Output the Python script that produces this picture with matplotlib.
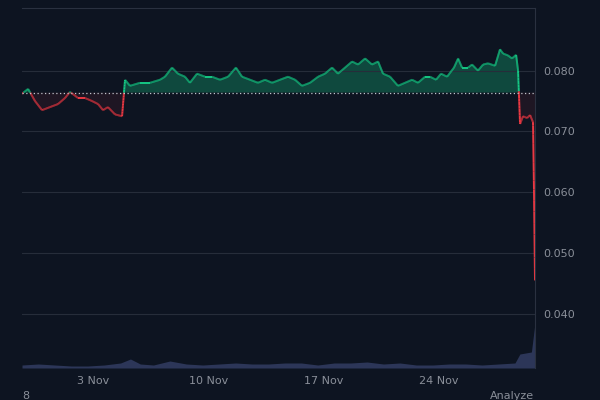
import numpy as np
import matplotlib
matplotlib.use("Agg")
import matplotlib.pyplot as plt
from matplotlib.collections import LineCollection
import datetime as dt

start = dt.datetime(2024, 10, 29, 16)
# time offsets (days from start) and price
days = [0,0.37,0.79,1.22,1.70,2.19,2.62,2.92,3.41,3.83,4.26,4.63,4.93,5.23,5.66,6.09,6.27,6.57,7.18,7.79,8.40,8.70,9.13,9.49,9.92,10.22,10.65,11.14,11.56,12.05,12.54,13.02,13.39,13.88,14.36,14.79,15.22,15.70,16.19,16.62,17.04,17.53,18.02,18.44,18.87,19.23,19.66,20.09,20.45,20.88,21.30,21.67,21.97,22.40,22.88,23.31,23.74,24.10,24.53,24.83,25.20,25.50,25.87,26.29,26.54,26.78,27.15,27.39,27.75,28.06,28.36,28.79,29.09,29.28,29.58,29.82,30.07,30.19,30.31,30.49,30.74,30.92,31.10,31.16,31.22]
price = [0.0762,0.0770,0.0750,0.0735,0.0740,0.0745,0.0755,0.0765,0.0755,0.0755,0.0750,0.0745,0.0735,0.0740,0.0728,0.0725,0.0785,0.0775,0.0780,0.0780,0.0785,0.0790,0.0805,0.0795,0.0790,0.0780,0.0795,0.0790,0.0790,0.0785,0.0790,0.0805,0.0790,0.0785,0.0780,0.0785,0.0780,0.0785,0.0790,0.0785,0.0775,0.0780,0.0790,0.0795,0.0805,0.0795,0.0805,0.0815,0.0810,0.0820,0.0810,0.0815,0.0795,0.0790,0.0775,0.0780,0.0785,0.0780,0.0790,0.0790,0.0785,0.0795,0.0790,0.0805,0.0820,0.0805,0.0805,0.0810,0.0800,0.0810,0.0812,0.0808,0.0835,0.0828,0.0825,0.0820,0.0826,0.0800,0.0712,0.0725,0.0722,0.0727,0.0715,0.0600,0.0455]
vol_days = [0,1,2,3,4,5,6,6.6,7.2,8,9,10,11,12,13,14,15,16,17,18,19,20,21,22,23,24,25,26,27,28,29,30.0,30.3,31.0,31.22]
vol = [3,4,3,2,2,3,5,9,4,3,7,4,3,4,5,4,4,5,5,3,5,5,6,4,5,3,3,4,4,3,4,5,14,16,45]
baseline = 0.0764

bg = "#0d1421"
fig = plt.figure(figsize=(6, 4), dpi=100, facecolor=bg)
ax = fig.add_axes([22/600, 32/400, 513/600, 360/400], facecolor=bg)
ax2 = ax.twinx()
ax.set_zorder(ax2.get_zorder() + 1)
ax.patch.set_visible(False)
ax2.set_facecolor(bg)

t = np.array([start + dt.timedelta(days=d) for d in days])
x = matplotlib.dates.date2num(t)
p = np.array(price)
xd = np.linspace(x[0], x[-1], 4000)
pd_ = np.interp(xd, x, p)
ax.fill_between(xd, pd_, baseline, where=pd_ >= baseline, color="#16c784", alpha=0.3, lw=0, interpolate=True)
ax.fill_between(xd, pd_, baseline, where=pd_ < baseline, color="#ea3943", alpha=0.08, lw=0, interpolate=True)
pts = np.column_stack([xd, pd_]).reshape(-1, 1, 2)
segs = np.concatenate([pts[:-1], pts[1:]], axis=1)
cols = np.where((pd_[:-1] + pd_[1:]) / 2 >= baseline, "#16c784", "#ea3943")
ax.add_collection(LineCollection(segs, colors=cols, linewidths=1.4))
ax.axhline(baseline, color="#c0c4cc", ls=(0, (1, 2)), lw=0.9)

ax.set_ylim(0.0311, 0.0903)
ax.set_xlim(x[0], x[-1])
ax.yaxis.tick_right()
ax.yaxis.set_label_position("right")
ax.set_yticks([0.040, 0.050, 0.060, 0.070, 0.080])
ax.set_yticklabels(["0.040", "0.050", "0.060", "0.070", "0.080"])
ticks = [dt.datetime(2024, 11, d) for d in (3, 10, 17, 24)]
ax.set_xticks(matplotlib.dates.date2num(ticks))
ax.set_xticklabels(["3 Nov", "10 Nov", "17 Nov", "24 Nov"])
ax.tick_params(colors="#8a8f99", labelsize=8, length=0, pad=6)
ax.grid(axis="y", color="#262d3a", lw=0.8)
for s in ["left", "bottom"]:
    ax.spines[s].set_visible(False)
for s in ["top", "right"]:
    ax.spines[s].set_color("#2a3140")

vx = matplotlib.dates.date2num([start + dt.timedelta(days=d) for d in vol_days])
ax2.fill_between(vx, vol, 0, color="#2c3658", lw=0)
ax2.set_ylim(0, 360)
ax2.set_yticks([])
for s in ax2.spines.values():
    s.set_visible(False)

fig.text(22/600, 1 - 396/400, "8", color="#8a8f99", fontsize=8, va="center")
fig.text(490/600, 1 - 396/400, "Analyze", color="#8a8f99", fontsize=8, va="center")
fig.savefig("out.png", dpi=100, facecolor=bg)
